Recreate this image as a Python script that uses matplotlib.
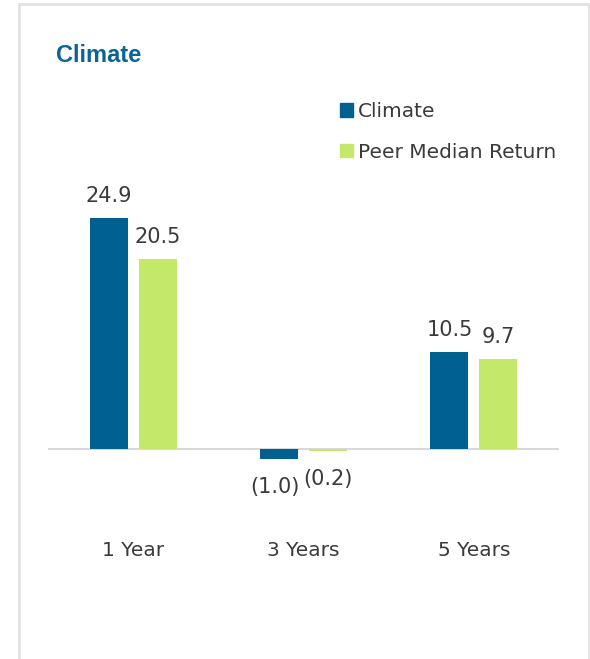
import matplotlib
matplotlib.use("Agg")
import matplotlib.pyplot as plt
from matplotlib.patches import Patch
from matplotlib.lines import Line2D
import numpy as np

plt.rcParams['font.family'] = ['DejaVu Sans']

periods = ["1 Year", "3 Years", "5 Years"]
climate = [24.9, -1.0, 10.5]
peer_median = [20.5, -0.2, 9.7]
series_names = ["Climate", "Peer Median Return"]

blue = "#00608F"
green = "#C3E86A"
text_col = "#3A3A3A"
grid_col = "#D9D9D9"

W, H = 590, 659
fig = plt.figure(figsize=(W / 100, H / 100), dpi=100)

# outer card frame (open at the bottom)
for xs, ys in [([18.5, 18.5], [0, 655]), ([588.5, 588.5], [0, 655]), ([18.5, 588.5], [655, 655])]:
    fig.add_artist(Line2D([x / W for x in xs], [y / H for y in ys],
                          transform=fig.transFigure, color="#E2E2E2", lw=2))

fig.text(56 / W, 1 - 62 / H, "Climate", color="#0B6497", fontsize=17,
         fontweight="bold", va="baseline", ha="left", family="Liberation Sans")

ax = fig.add_axes([48 / W, (659 - 486.6) / H, 511 / W, 278.4 / H])
x = np.arange(len(periods))
w = 0.223
off = 0.143
b1 = ax.bar(x - off, climate, w, color=blue, label=series_names[0])
b2 = ax.bar(x + off, peer_median, w, color=green, label=series_names[1])

def fmt(v):
    return f"({abs(v):.1f})" if v < 0 else f"{v:.1f}"

for bars, vals in [(b1, climate), (b2, peer_median)]:
    for rect, v in zip(bars, vals):
        cx = rect.get_x() + rect.get_width() / 2
        if v >= 0:
            ax.annotate(fmt(v), (cx, v), xytext=(0, 9), textcoords="offset points",
                        ha="center", va="bottom", fontsize=15, color=text_col)
        else:
            ax.annotate(fmt(v), (cx, v), xytext=(-3 if bars is b1 else 0, -13),
                        textcoords="offset points",
                        ha="center", va="top", fontsize=15, color=text_col)

ax.axhline(0, color=grid_col, lw=1.5, zorder=0)
ax.set_xlim(-0.5, 2.5)
ax.set_ylim(-4, 26)
ax.set_xticks(x)
ax.set_xticklabels(periods, fontsize=14.5, color=text_col)
ax.tick_params(axis="x", length=0, pad=39.5)
ax.set_yticks([])
for s in ax.spines.values():
    s.set_visible(False)
ax.patch.set_alpha(0)

handles = [Patch(color=blue), Patch(color=green)]
fig.legend(handles, series_names, loc="upper left",
           bbox_to_anchor=(340 / W, 1 - 102 / H), bbox_transform=fig.transFigure,
           frameon=False, fontsize=14.5, handlelength=0.65, handleheight=0.65,
           handletextpad=0.25, labelspacing=1.07, borderpad=0, borderaxespad=0,
           labelcolor=text_col)

fig.savefig("out.png", dpi=100)
